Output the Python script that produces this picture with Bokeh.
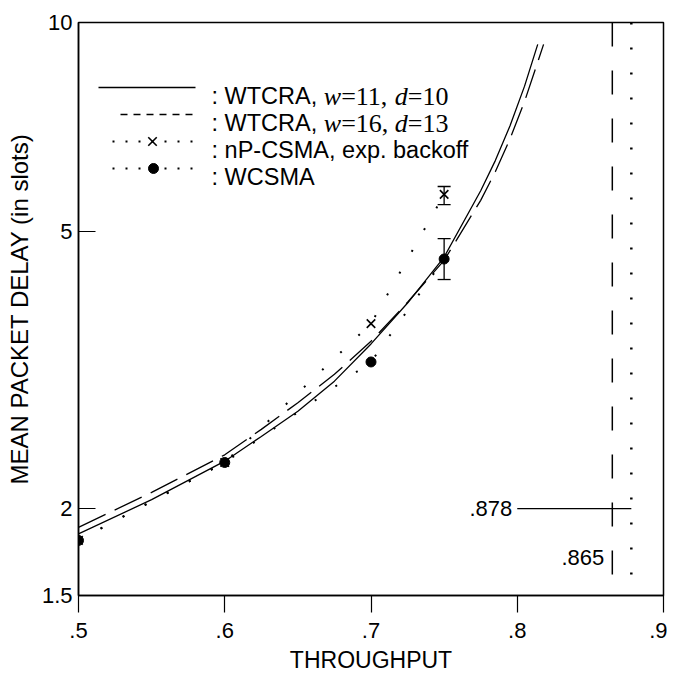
from bokeh.plotting import figure
from bokeh.models import FixedTicker, Label, Whisker, TeeHead, ColumnDataSource, Span
from bokeh.embed import file_html
from bokeh.resources import INLINE

# ---------------- data ----------------
wtcra_a_x = [0.50, 0.55, 0.60, 0.625, 0.65, 0.675, 0.70, 0.725, 0.75, 0.775, 0.785, 0.795, 0.805, 0.814]
wtcra_a_y = [1.84, 2.06, 2.34, 2.54, 2.76, 3.05, 3.45, 3.95, 4.60, 5.73, 6.33, 7.10, 8.10, 9.30]
wtcra_b_x = [0.50, 0.55, 0.60, 0.625, 0.65, 0.675, 0.70, 0.725, 0.75, 0.775, 0.785, 0.795, 0.805, 0.818]
wtcra_b_y = [1.88, 2.11, 2.39, 2.60, 2.84, 3.12, 3.48, 3.96, 4.55, 5.55, 6.10, 6.80, 7.70, 9.30]
sim_x = [0.50, 0.60, 0.70, 0.75]
npcsma_y = [1.80, 2.33, 3.69, 5.66]
wcsma_y = [1.80, 2.33, 3.25, 4.57]
err_x = [0.75, 0.75]
err_lower = [5.47, 4.27]
err_upper = [5.81, 4.89]
cap_a = 0.865   # dashed asymptote
cap_b = 0.878   # dotted asymptote
marker_level = 2.0
marker_from = 0.80
label_865_y = 1.70
x_ticks = [0.5, 0.6, 0.7, 0.8, 0.9]
x_labels = [".5", ".6", ".7", ".8", ".9"]
y_ticks = [1.5, 2, 5, 10]
y_labels = ["1.5", "2", "5", "10"]

SANS = "Liberation Sans"
SERIF = "Liberation Serif"
FS = "22px"

p = figure(frame_width=585, frame_height=573, x_range=(0.5, 0.9), y_range=(1.5, 10),
           y_axis_type="log", output_backend="svg", toolbar_location=None,
           min_border_left=78, min_border_top=22, min_border_right=4, min_border_bottom=60,
           background_fill_color="white", border_fill_color="white")
p.grid.visible = False
p.outline_line_color = "black"
p.outline_line_width = 1.5

for ax in (p.xaxis[0], p.yaxis[0]):
    ax.axis_line_width = 1.5
    ax.major_tick_line_width = 1.2
    ax.minor_tick_line_color = None
    ax.major_label_text_font = SANS
    ax.major_label_text_font_size = FS
    ax.major_label_text_color = "black"
    ax.axis_label_text_font = SANS
    ax.axis_label_text_font_style = "normal"
    ax.axis_label_text_color = "black"

p.xaxis.ticker = FixedTicker(ticks=x_ticks)
p.xaxis.major_label_overrides = {t: l for t, l in zip(x_ticks, x_labels)}
p.xaxis.major_tick_in = 0
p.xaxis.major_tick_out = 17
p.xaxis.major_label_standoff = 10
p.xaxis.axis_label = "THROUGHPUT"
p.xaxis.axis_label_text_font_size = "23px"
p.xaxis.axis_label_standoff = 6

p.yaxis.ticker = FixedTicker(ticks=y_ticks)
p.yaxis.major_label_overrides = {t: l for t, l in zip(y_ticks, y_labels)}
p.yaxis.major_tick_in = 17
p.yaxis.major_tick_out = 0
p.yaxis.major_label_standoff = 6
p.yaxis.axis_label = "MEAN PACKET DELAY (in slots)"
p.yaxis.axis_label_text_font_size = "24px"
p.yaxis.axis_label_standoff = 6

# curves
p.line(wtcra_a_x, wtcra_a_y, line_color="black", line_width=1.3)
p.line(wtcra_b_x, wtcra_b_y, line_color="black", line_width=1.3, line_dash="30 10")

# simulation dotted lines
p.line(sim_x, npcsma_y, line_color="black", line_width=2, line_dash="2 23")
p.line(sim_x, wcsma_y, line_color="black", line_width=2, line_dash="2 23")

# error bars
src = ColumnDataSource(dict(x=err_x, lower=err_lower, upper=err_upper))
p.add_layout(Whisker(source=src, base="x", lower="lower", upper="upper",
                     line_color="black", line_width=1.3,
                     lower_head=TeeHead(size=13, line_width=1.3, line_color="black"),
                     upper_head=TeeHead(size=13, line_width=1.3, line_color="black")))

p.scatter(sim_x, npcsma_y, marker="x", size=12, line_color="black", line_width=1.6)
p.scatter(sim_x, wcsma_y, marker="circle", size=10, fill_color="black", line_color="black")

# asymptotes
p.add_layout(Span(location=cap_a, dimension="height", line_color="black",
                  line_width=1.5, line_dash="24 24"))
p.add_layout(Span(location=cap_b, dimension="height", line_color="black",
                  line_width=2.5, line_dash="2 23"))
p.segment(x0=[marker_from], y0=[marker_level], x1=[cap_b], y1=[marker_level],
          line_color="black", line_width=1.2)
p.add_layout(Label(x=marker_from, y=marker_level, text=f".{int(round(cap_b*1000))}",
                   text_align="right", text_baseline="middle", x_offset=-5,
                   text_font=SANS, text_font_size=FS, text_color="black"))
p.add_layout(Label(x=cap_a, y=label_865_y, text=f".{int(round(cap_a*1000))}",
                   text_align="right", text_baseline="middle", x_offset=-8,
                   text_font=SANS, text_font_size=FS, text_color="black"))

# ---------------- hand-made legend ----------------
def px_x(px):
    return 0.5 + (px - 78) / 1462.5

def px_y(py):
    return 10 ** (1 - (py - 22) / 695.5)

W_SANS = {':': .278, ' ': .278, 'W': .944, 'T': .611, 'C': .722, 'R': .722, 'A': .667, ',': .278,
          'n': .556, 'P': .667, '-': .333, 'S': .667, 'M': .833, 'e': .556, 'x': .5, 'p': .556,
          '.': .278, 'b': .556, 'a': .556, 'c': .5, 'k': .5, 'o': .556, 'f': .278}
W_SERIF = {'w': .667, 'd': .5, '=': .564, '1': .5, '0': .5, '6': .5, '3': .5, ',': .25, ' ': .25}
F_SANS = 23.5
F_SERIF = 26

def add_row(baseline_py, chunks, text_px=211):
    off = 0.0
    for txt, fam, style in chunks:
        fs = F_SANS if fam == SANS else F_SERIF
        p.add_layout(Label(x=px_x(text_px), y=px_y(baseline_py), text=txt, x_offset=off,
                           text_baseline="alphabetic", text_align="left",
                           text_font=fam, text_font_style=style,
                           text_font_size=f"{fs}px", text_color="black"))
        table = W_SANS if fam == SANS else W_SERIF
        off += sum(table.get(ch, .5) for ch in txt) * fs

rows = [87, 114, 141, 168]        # sample centre lines (px)
baselines = [96, 123, 150, 177]   # text baselines (px)
leg_labels = [
    [(": WTCRA, ", SANS, "normal"), ("w", SERIF, "italic"), ("=11, ", SERIF, "normal"),
     ("d", SERIF, "italic"), ("=10", SERIF, "normal")],
    [(": WTCRA, ", SANS, "normal"), ("w", SERIF, "italic"), ("=16, ", SERIF, "normal"),
     ("d", SERIF, "italic"), ("=13", SERIF, "normal")],
    [(": nP-CSMA, exp. backoff", SANS, "normal")],
    [(": WCSMA", SANS, "normal")],
]
# samples
p.line([px_x(98), px_x(195)], [px_y(rows[0])] * 2, line_color="black", line_width=1.3)
p.line([px_x(120), px_x(195)], [px_y(rows[1])] * 2, line_color="black", line_width=1.3, line_dash="7 6")
p.line([px_x(112), px_x(194)], [px_y(rows[2])] * 2, line_color="black", line_width=2, line_dash="2 11")
p.scatter([px_x(152)], [px_y(rows[2])], marker="x", size=12, line_color="black", line_width=1.6)
p.line([px_x(112), px_x(194)], [px_y(rows[3])] * 2, line_color="black", line_width=2, line_dash="2 11")
p.scatter([px_x(153)], [px_y(rows[3])], marker="circle", size=10, fill_color="black", line_color="black")
for b, ch in zip(baselines, leg_labels):
    add_row(b, ch)

open("out.html", "w").write(file_html(p, INLINE))
